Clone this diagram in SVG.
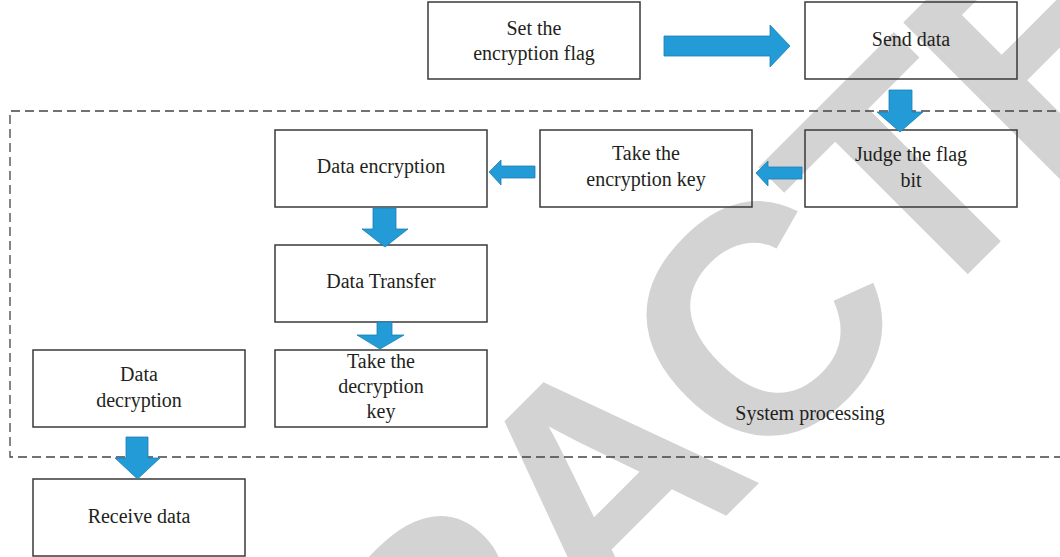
<svg xmlns="http://www.w3.org/2000/svg" width="1060" height="557" viewBox="0 0 1060 557">
<style>
.box{fill:none;stroke:#3a3a3a;stroke-width:1.5}
.lbl{font-family:"Liberation Serif","Times New Roman",serif;font-size:20px;fill:#231f20;text-anchor:middle}
.arr{fill:#229bd6;stroke:#1d7fb5;stroke-width:0.8}
.wm{font-family:"Liberation Sans",Arial,sans-serif;font-weight:bold;font-size:325px;fill:#d3d3d3;letter-spacing:-12px}
</style>
<rect width="1060" height="557" fill="#ffffff"/>
<text class="wm" transform="translate(7.5,1234.5) rotate(-45)" x="0" y="0">RETRACTED</text>
<g id="system-processing">
<path d="M1070,111 H10 V457 H1070" fill="none" stroke="#444" stroke-width="1.3" stroke-dasharray="9,5"/>
<text class="lbl" x="810" y="420">System processing</text>
</g>
<g id="set-flag"><rect class="box" x="428" y="2" width="212" height="77"/><text class="lbl" x="534" y="35">Set the</text><text class="lbl" x="534" y="60">encryption flag</text></g>
<g id="send-data"><rect class="box" x="805" y="2" width="212" height="77"/><text class="lbl" x="911" y="46">Send data</text></g>
<g id="judge-flag"><rect class="box" x="805" y="130" width="212" height="77"/><text class="lbl" x="911" y="161">Judge the flag</text><text class="lbl" x="911" y="187">bit</text></g>
<g id="take-enc-key"><rect class="box" x="540" y="130" width="212" height="77"/><text class="lbl" x="646" y="160">Take the</text><text class="lbl" x="646" y="186">encryption key</text></g>
<g id="data-encryption"><rect class="box" x="275" y="130" width="212" height="77"/><text class="lbl" x="381" y="173">Data encryption</text></g>
<g id="data-transfer"><rect class="box" x="275" y="245" width="212" height="77"/><text class="lbl" x="381" y="288">Data Transfer</text></g>
<g id="take-dec-key"><rect class="box" x="275" y="350" width="212" height="77"/><text class="lbl" x="381" y="368">Take the</text><text class="lbl" x="381" y="393">decryption</text><text class="lbl" x="381" y="418">key</text></g>
<g id="data-decryption"><rect class="box" x="33" y="350" width="212" height="77"/><text class="lbl" x="139" y="381">Data</text><text class="lbl" x="139" y="407">decryption</text></g>
<g id="receive-data"><rect class="box" x="33" y="479" width="212" height="77"/><text class="lbl" x="139" y="523">Receive data</text></g>
<g id="connectors">
<polygon class="arr" points="664,36 770,36 770,25 790,46 770,67 770,56 664,56"/>
<polygon class="arr" points="889,90 912,90 912,112 923,112 900,132 877,112 889,112"/>
<polygon class="arr" points="802,167 768,167 768,161 756,173 768,186 768,179 802,179"/>
<polygon class="arr" points="535,166 501,166 501,160 489,172 501,185 501,178 535,178"/>
<polygon class="arr" points="373,208 396,208 396,229 408,229 385,247 362,229 373,229"/>
<polygon class="arr" points="377,322 392,322 392,335 404,335 380,349 357,335 377,335"/>
<polygon class="arr" points="126,437 148,437 148,458 160,458 137.5,479 115,458 126,458"/>
</g>
</svg>
